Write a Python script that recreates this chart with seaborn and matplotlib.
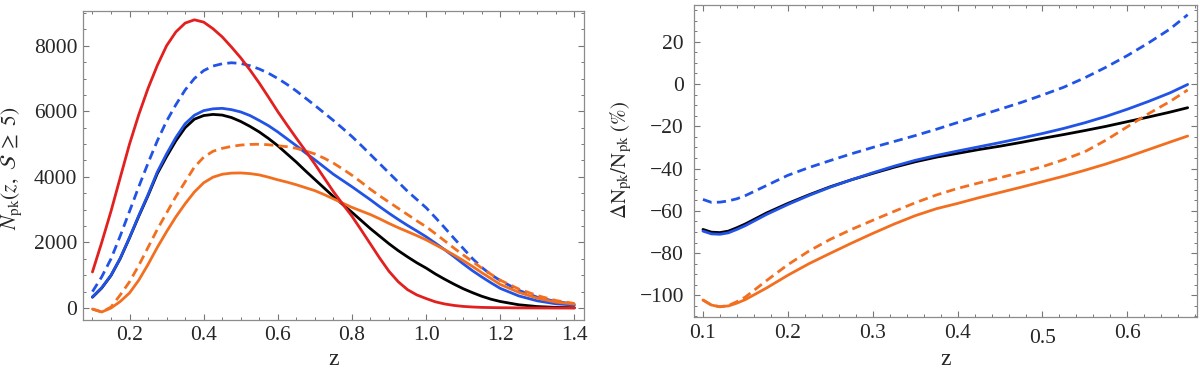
import numpy as np
import pandas as pd
import matplotlib
matplotlib.use("Agg")
import matplotlib.pyplot as plt
import matplotlib.transforms as mtransforms
from matplotlib.ticker import MultipleLocator, FuncFormatter
import seaborn as sns

# ---- left panel: N_pk(z, S>=5) ----
z_left = [0.100, 0.125, 0.150, 0.175, 0.200, 0.225, 0.250, 0.275, 0.300, 0.325,
          0.350, 0.375, 0.400, 0.425, 0.450, 0.475, 0.500, 0.525, 0.550, 0.575,
          0.600, 0.625, 0.650, 0.675, 0.700, 0.725, 0.750, 0.775, 0.800, 0.825,
          0.850, 0.875, 0.900, 0.925, 0.950, 0.975, 1.000, 1.025, 1.050, 1.075,
          1.100, 1.125, 1.150, 1.175, 1.200, 1.250, 1.300, 1.350, 1.400]
n_red = [1100, 2000, 2950, 3980, 5000, 5900, 6700, 7400, 8000, 8420,
         8690, 8790, 8720, 8520, 8270, 7960, 7630, 7260, 6860, 6430,
         5990, 5580, 5180, 4790, 4390, 3970, 3550, 3170, 2800, 2380,
         1950, 1520, 1120, 800, 560, 400, 290, 190, 125, 80,
         50, 32, 20, 14, 10, 5, 2, 1, 0]
n_blue_dash = [500, 950, 1500, 2200, 2950, 3700, 4420, 5100, 5700, 6200,
               6650, 7000, 7240, 7380, 7450, 7480, 7460, 7390, 7290, 7160,
               7000, 6820, 6620, 6400, 6180, 5950, 5720, 5480, 5230, 4960,
               4680, 4400, 4120, 3840, 3560, 3310, 3060, 2760, 2450, 2130,
               1820, 1510, 1240, 1020, 840, 540, 330, 200, 120]
n_blue = [340, 620, 1000, 1520, 2150, 2820, 3460, 4150, 4700, 5200,
          5620, 5880, 6020, 6075, 6090, 6050, 5980, 5870, 5720, 5560,
          5370, 5160, 4950, 4730, 4520, 4300, 4080, 3890, 3700, 3500,
          3300, 3090, 2890, 2700, 2520, 2350, 2175, 1980, 1780, 1570,
          1350, 1140, 950, 770, 600, 370, 220, 130, 90]
n_black = [330, 610, 990, 1510, 2140, 2800, 3430, 4100, 4620, 5100,
           5500, 5760, 5870, 5905, 5885, 5810, 5690, 5540, 5370, 5170,
           4950, 4700, 4450, 4180, 3920, 3660, 3400, 3160, 2920, 2670,
           2420, 2190, 1960, 1750, 1560, 1380, 1220, 1040, 880, 730,
           590, 470, 360, 270, 200, 100, 45, 20, 10]
n_orange_dash = [-30, -120, 30, 400, 800, 1300, 1850, 2400, 2900, 3400,
                 3850, 4300, 4600, 4780, 4870, 4930, 4970, 4990, 4995, 4980,
                 4950, 4920, 4870, 4790, 4700, 4570, 4420, 4240, 4050, 3840,
                 3620, 3420, 3230, 3040, 2850, 2660, 2480, 2270, 2050, 1830,
                 1620, 1420, 1220, 1030, 850, 580, 380, 230, 140]
n_orange = [-30, -120, 0, 200, 460, 850, 1330, 1850, 2330, 2780,
            3180, 3540, 3820, 3990, 4080, 4115, 4120, 4100, 4060, 3990,
            3910, 3840, 3760, 3670, 3580, 3460, 3330, 3200, 3070, 2960,
            2850, 2720, 2580, 2450, 2330, 2210, 2080, 1930, 1780, 1620,
            1450, 1270, 1080, 900, 720, 480, 300, 180, 120]

# ---- right panel: Delta N_pk / N_pk (%) ----
z_right = [0.100, 0.110, 0.120, 0.130, 0.140, 0.150, 0.175, 0.200, 0.225, 0.250,
           0.275, 0.300, 0.325, 0.350, 0.375, 0.400, 0.425, 0.450, 0.475, 0.500,
           0.525, 0.550, 0.575, 0.600, 0.625, 0.650, 0.671]
d_blue_dash = [-54.6, -56.0, -55.9, -55.3, -54.3, -52.8, -48.0, -43.2, -39.5, -36.2,
               -33.0, -30.0, -27.2, -24.4, -21.4, -18.2, -15.0, -11.9, -8.7, -5.2,
               -1.5, 3.0, 8.0, 13.5, 19.5, 26.0, 32.8]
d_black = [-68.8, -70.1, -70.3, -69.6, -68.0, -66.2, -61.0, -56.5, -52.4, -48.6,
           -45.3, -42.3, -39.4, -36.8, -34.6, -32.8, -31.0, -29.4, -27.6, -25.7,
           -23.9, -22.0, -20.0, -17.8, -15.6, -13.3, -11.2]
d_blue = [-69.6, -70.9, -71.1, -70.4, -68.8, -67.0, -61.7, -57.0, -52.7, -48.8,
          -45.3, -42.0, -38.9, -36.1, -33.8, -31.7, -29.7, -27.7, -25.6, -23.4,
          -21.0, -18.3, -15.3, -11.9, -8.2, -4.2, -0.2]
d_orange_dash = [-102.2, -104.6, -105.4, -104.8, -103.0, -100.8, -93.0, -85.5, -79.0, -73.5,
                 -68.8, -64.5, -60.3, -56.2, -52.5, -49.4, -46.8, -44.3, -41.8, -39.1,
                 -35.8, -32.0, -26.5, -20.2, -14.0, -8.3, -2.8]
d_orange = [-102.2, -104.6, -105.4, -105.0, -103.7, -102.0, -96.5, -90.5, -85.0, -80.1,
            -75.3, -70.7, -66.3, -62.3, -59.0, -56.5, -53.8, -51.3, -48.8, -46.2,
            -43.6, -40.8, -37.8, -34.5, -31.0, -27.5, -24.6]

RED = "#e2201f"
BLUE = "#2153e6"
ORANGE = "#f36f20"
BLACK = "#000000"
DASH = (0, (3.3, 1.9))
LW = 2.0

sns.set_style("ticks")
plt.rcParams["font.family"] = ["Liberation Serif", "DejaVu Serif"]
plt.rcParams["mathtext.fontset"] = "stix"
plt.rcParams["axes.edgecolor"] = "#8c8c8c"
plt.rcParams["axes.linewidth"] = 0.9
plt.rcParams["axes.unicode_minus"] = True

fig = plt.figure(figsize=(12, 3.7), dpi=100)
ax1 = fig.add_axes([0.069, 0.135, 0.418, 0.836])
ax2 = fig.add_axes([0.578, 0.1424, 0.4195, 0.844])

left_series = [
    (n_black, BLACK, "-"),
    (n_blue, BLUE, "-"),
    (n_blue_dash, BLUE, DASH),
    (n_orange, ORANGE, "-"),
    (n_orange_dash, ORANGE, DASH),
    (n_red, RED, "-"),
]
for vals, col, ls in left_series:
    sns.lineplot(x=z_left, y=vals, ax=ax1, color=col, linestyle=ls, lw=LW,
                 sort=False, estimator=None)

right_series = [
    (d_black, BLACK, "-"),
    (d_blue, BLUE, "-"),
    (d_blue_dash, BLUE, DASH),
    (d_orange, ORANGE, "-"),
    (d_orange_dash, ORANGE, DASH),
]
for vals, col, ls in right_series:
    sns.lineplot(x=z_right, y=vals, ax=ax2, color=col, linestyle=ls, lw=LW,
                 sort=False, estimator=None)

int_fmt = FuncFormatter(lambda v, p: f"{v:.0f}".replace("-", "\u2212"))
dec_fmt = FuncFormatter(lambda v, p: f"{v:.1f}")

ax1.set_xlim(0.074, 1.427)
ax1.set_ylim(-366, 9067)
ax1.xaxis.set_major_locator(MultipleLocator(0.2))
ax1.xaxis.set_minor_locator(MultipleLocator(0.05))
ax1.yaxis.set_major_locator(MultipleLocator(2000))
ax1.yaxis.set_minor_locator(MultipleLocator(500))

ax2.set_xlim(0.089, 0.682)
ax2.set_ylim(-110.4, 37.4)
ax2.xaxis.set_major_locator(MultipleLocator(0.1))
ax2.xaxis.set_minor_locator(MultipleLocator(0.02))
ax2.yaxis.set_major_locator(MultipleLocator(20))
ax2.yaxis.set_minor_locator(MultipleLocator(5))

for ax in (ax1, ax2):
    ax.xaxis.set_major_formatter(dec_fmt)
    ax.yaxis.set_major_formatter(int_fmt)
    ax.tick_params(which="both", direction="in", top=True, right=True,
                   color="#777777", labelsize=15.5)
    ax.tick_params(which="major", length=4.5, width=0.8)
    ax.tick_params(which="minor", length=2.5, width=0.7)
    ax.tick_params(axis="x", pad=4.5)
    ax.set_xlabel("z", fontsize=17)

ax1.tick_params(axis="y", pad=4)
ax2.tick_params(axis="y", pad=7)
ax1.xaxis.set_label_coords(0.5, -0.095)
ax2.xaxis.set_label_coords(0.5, -0.1)

ax1.set_ylabel(r"$N_{\mathrm{pk}}(z,\ \mathcal{S}\ \geq\ 5)$", fontsize=15.5)
ax1.yaxis.set_label_coords(-0.118, 0.49)
ax2.set_ylabel(r"$\Delta \mathrm{N}_{\mathrm{pk}}/\mathrm{N}_{\mathrm{pk}}\ (\%)$", fontsize=15)
ax2.yaxis.set_label_coords(-0.118, 0.504)

# the 0.5 label sits a little lower in the original
fig.canvas.draw()
for lbl in ax2.get_xticklabels():
    if lbl.get_text() == "0.5":
        lbl.set_transform(lbl.get_transform() +
                          mtransforms.ScaledTranslation(0, -4 / 72, fig.dpi_scale_trans))

fig.savefig("out.png", dpi=100)
plt.close(fig)
